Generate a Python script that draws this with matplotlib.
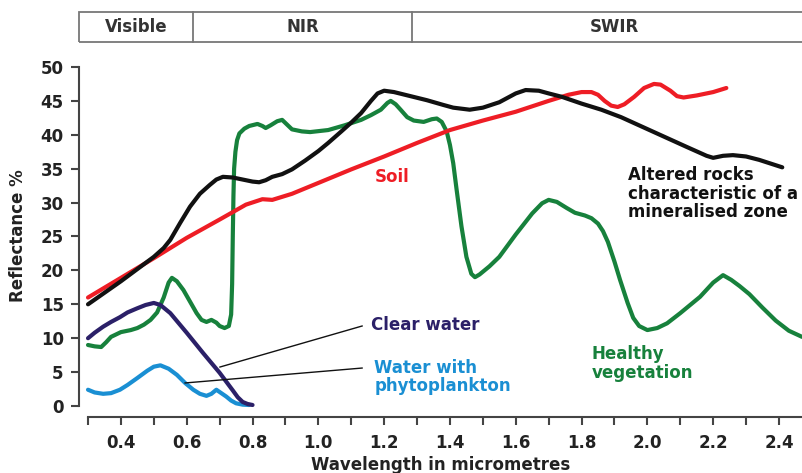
import matplotlib
matplotlib.use("Agg")
import matplotlib.pyplot as plt
from matplotlib.patches import Rectangle
from matplotlib.lines import Line2D

# ---------------- data ----------------
wl_soil = [0.30, 0.40, 0.50, 0.60, 0.70, 0.78, 0.83, 0.86, 0.92, 1.00, 1.10, 1.20,
           1.30, 1.40, 1.50, 1.60, 1.70, 1.76, 1.80, 1.83, 1.85, 1.87, 1.89, 1.91,
           1.93, 1.96, 1.99, 2.02, 2.04, 2.07, 2.09, 2.11, 2.15, 2.20, 2.24]
soil = [16.0, 18.9, 21.8, 24.8, 27.5, 29.7, 30.5, 30.4, 31.3, 32.9, 34.9, 36.8,
        38.8, 40.7, 42.1, 43.4, 45.0, 45.9, 46.3, 46.3, 45.9, 45.0, 44.3, 44.1,
        44.5, 45.6, 46.9, 47.5, 47.4, 46.5, 45.7, 45.5, 45.8, 46.3, 46.9]

wl_rock = [0.30, 0.40, 0.50, 0.53, 0.55, 0.58, 0.61, 0.64, 0.67, 0.69, 0.71, 0.74,
           0.77, 0.80, 0.82, 0.84, 0.86, 0.89, 0.92, 0.96, 1.00, 1.03, 1.07, 1.10,
           1.13, 1.16, 1.18, 1.20, 1.23, 1.28, 1.33, 1.38, 1.41, 1.46, 1.50, 1.55,
           1.60, 1.63, 1.67, 1.70, 1.74, 1.80, 1.86, 1.92, 2.02, 2.12, 2.18, 2.20,
           2.23, 2.26, 2.30, 2.34, 2.41]
rock = [15.0, 18.4, 22.0, 23.3, 24.5, 27.0, 29.4, 31.3, 32.6, 33.4, 33.8, 33.7,
        33.4, 33.1, 33.0, 33.3, 33.8, 34.2, 34.9, 36.2, 37.6, 38.8, 40.5, 41.8,
        43.2, 45.0, 46.1, 46.5, 46.3, 45.7, 45.1, 44.4, 44.0, 43.7, 44.0, 44.8,
        46.1, 46.6, 46.5, 46.1, 45.6, 44.6, 43.7, 42.6, 40.4, 38.2, 36.9, 36.6,
        36.9, 37.0, 36.8, 36.3, 35.2]

wl_veg = [0.30, 0.32, 0.34, 0.355, 0.37, 0.40, 0.43, 0.45, 0.47, 0.49, 0.51, 0.53,
          0.545, 0.555, 0.57, 0.59, 0.61, 0.63, 0.645, 0.66, 0.675, 0.69, 0.70,
          0.715, 0.728, 0.735, 0.738, 0.740, 0.742, 0.744, 0.748, 0.753, 0.76,
          0.775, 0.79, 0.815, 0.83, 0.84, 0.855, 0.875, 0.89, 0.905, 0.92, 0.95,
          0.975, 1.03, 1.08, 1.13, 1.16, 1.19, 1.21, 1.22, 1.235, 1.25, 1.27, 1.29,
          1.32, 1.345, 1.36, 1.375, 1.39, 1.40, 1.41, 1.42, 1.435, 1.45, 1.465,
          1.476, 1.49, 1.52, 1.55, 1.60, 1.65, 1.68, 1.70, 1.725, 1.755, 1.78,
          1.81, 1.83, 1.85, 1.865, 1.88, 1.90, 1.917, 1.94, 1.957, 1.975, 2.00,
          2.03, 2.06, 2.10, 2.16, 2.20, 2.23, 2.255, 2.28, 2.31, 2.35, 2.39, 2.43,
          2.47]
veg = [9.0, 8.8, 8.7, 9.4, 10.2, 10.9, 11.2, 11.5, 12.0, 12.7, 13.8, 16.0,
       18.2, 18.9, 18.4, 17.1, 15.4, 13.7, 12.7, 12.4, 12.7, 12.3, 11.8,
       11.5, 11.8, 13.5, 18.0, 25.0, 31.0, 35.0, 37.5, 39.2, 40.2,
       40.9, 41.3, 41.6, 41.3, 41.0, 41.4, 42.0, 42.2, 41.5, 40.8, 40.5,
       40.4, 40.7, 41.4, 42.2, 42.9, 43.7, 44.7, 45.0, 44.5, 43.7, 42.6, 42.1,
       41.9, 42.3, 42.4, 41.9, 40.5, 38.5, 35.8, 32.0, 26.5, 22.0, 19.5,
       19.0, 19.4, 20.6, 22.0, 25.3, 28.4, 29.9, 30.4, 30.1, 29.2, 28.5,
       28.1, 27.7, 26.9, 25.8, 24.2, 21.3, 18.6, 15.2, 13.0, 11.8, 11.2,
       11.5, 12.2, 13.7, 16.1, 18.2, 19.3, 18.6, 17.7, 16.5, 14.5, 12.6, 11.1,
       10.2]

wl_clear = [0.30, 0.32, 0.346, 0.37, 0.397, 0.42, 0.449, 0.475, 0.50, 0.52, 0.55,
            0.60, 0.65, 0.70, 0.72, 0.74, 0.755, 0.77, 0.785, 0.80]
clear = [10.0, 10.8, 11.7, 12.4, 13.1, 13.8, 14.4, 14.9, 15.2, 14.9, 13.7,
         10.8, 7.8, 4.9, 3.6, 2.3, 1.3, 0.6, 0.3, 0.15]

wl_phyto = [0.30, 0.32, 0.346, 0.37, 0.397, 0.42, 0.449, 0.48, 0.50, 0.52, 0.545,
            0.57, 0.595, 0.62, 0.64, 0.66, 0.675, 0.69, 0.705, 0.72, 0.735, 0.75,
            0.77, 0.79]
phyto = [2.4, 2.0, 1.8, 1.9, 2.4, 3.1, 4.1, 5.2, 5.8, 6.0, 5.5,
         4.6, 3.4, 2.4, 1.8, 1.5, 1.8, 2.4, 1.9, 1.4, 0.8, 0.4,
         0.2, 0.15]

bands = ["Visible", "NIR", "SWIR"]
band_edges = [0.272, 0.618, 1.285, 2.6]
x_ticks = [0.3, 0.4, 0.5, 0.6, 0.7, 0.8, 0.9, 1.0, 1.1, 1.2, 1.3, 1.4, 1.5, 1.6,
           1.7, 1.8, 1.9, 2.0, 2.1, 2.2, 2.3, 2.4]
x_labels = ["", "0.4", "", "0.6", "", "0.8", "", "1.0", "", "1.2", "", "1.4", "",
            "1.6", "", "1.8", "", "2.0", "", "2.2", "", "2.4"]
y_ticks = [0, 5, 10, 15, 20, 25, 30, 35, 40, 45, 50]

# ---------------- style ----------------
RED = "#ee1d25"
BLACK = "#111111"
GREEN = "#17813c"
NAVY = "#2b2068"
LBLUE = "#1a8fd3"
AXC = "#444444"

W, H = 803, 473
fig = plt.figure(figsize=(W / 100, H / 100), dpi=100)
plt.rcParams['font.family'] = ['DejaVu Sans']

def fx(px):
    return px / W

def fy(py):
    return 1 - py / H

XMIN, XMAX = 0.2726, 2.473
YMIN, YMAX = -1.62, 51.03
ax = fig.add_axes([fx(79), fy(417), fx(803) - fx(79), fy(60) - fy(417)])
ax.set_xlim(XMIN, XMAX)
ax.set_ylim(YMIN, YMAX)
ax.patch.set_alpha(0)

lw = 3.0
kw = dict(lw=lw, solid_capstyle="round", solid_joinstyle="round")
ax.plot(wl_soil, soil, color=RED, zorder=3, **kw)
ax.plot(wl_rock, rock, color=BLACK, zorder=4, **kw)
ax.plot(wl_veg, veg, color=GREEN, zorder=2, **kw)
ax.plot(wl_clear, clear, color=NAVY, zorder=5, **kw)
ax.plot(wl_phyto, phyto, color=LBLUE, zorder=4, **kw)

# spines
for s in ["top", "right"]:
    ax.spines[s].set_visible(False)
ax.spines["left"].set_bounds(0, 50)
ax.spines["bottom"].set_bounds(0.3, XMAX)
for s in ["left", "bottom"]:
    ax.spines[s].set_color(AXC)
    ax.spines[s].set_linewidth(1.5)

ax.set_yticks(y_ticks)
ax.set_xticks(x_ticks)
ax.set_xticklabels(x_labels)
ax.tick_params(axis="both", direction="out", color=AXC, width=1.5, length=6,
               labelsize=12, labelcolor="#222222")
ax.tick_params(axis="x", pad=6)
ax.tick_params(axis="y", pad=5)
for lab in ax.get_xticklabels() + ax.get_yticklabels():
    lab.set_fontweight("bold")

ax.set_xlabel("Wavelength in micrometres", fontsize=12, fontweight="bold",
              color="#222222", labelpad=3)
fig.text(fx(18), fy(236), "Reflectance %", rotation=90, fontsize=12,
         fontweight="bold", color="#222222", ha="center", va="center")

# annotation leader lines
ax.plot([1.133, 0.701], [11.8, 5.75], color=BLACK, lw=1.0, zorder=6)
ax.plot([1.133, 0.595], [5.6, 3.4], color=BLACK, lw=1.0, zorder=6)

tkw = dict(fontsize=12, fontweight="bold", ha="left", va="center")
ax.text(1.16, 12.0, "Clear water", color=NAVY, **tkw)
ax.text(1.17, 4.3, "Water with\nphytoplankton", color=LBLUE, linespacing=1.05, **tkw)
ax.text(1.172, 33.8, "Soil", color=RED, **tkw)
ax.text(1.94, 31.3, "Altered rocks\ncharacteristic of a\nmineralised zone",
        color=BLACK, linespacing=1.05, **tkw)
ax.text(1.83, 6.3, "Healthy\nvegetation", color=GREEN, linespacing=1.1, **tkw)

# header band box
def xpx(v):
    return 88 + (v - 0.3) * 329

top, bot = 12, 42
box = Rectangle((fx(79), fy(bot)), fx(820) - fx(79), fy(top) - fy(bot),
                transform=fig.transFigure, fill=False, edgecolor="#777777",
                lw=1.3, clip_on=False)
fig.add_artist(box)
for e in band_edges[1:-1]:
    fig.add_artist(Line2D([fx(xpx(e)), fx(xpx(e))], [fy(bot), fy(top)],
                          transform=fig.transFigure, color="#777777", lw=1.3))
band_centers_px = [136, 303, 614]
for name, cx in zip(bands, band_centers_px):
    fig.text(fx(cx), fy(27.5), name, fontsize=12, fontweight="bold",
             color="#333333", ha="center", va="center")

fig.savefig("out.png", dpi=100)
